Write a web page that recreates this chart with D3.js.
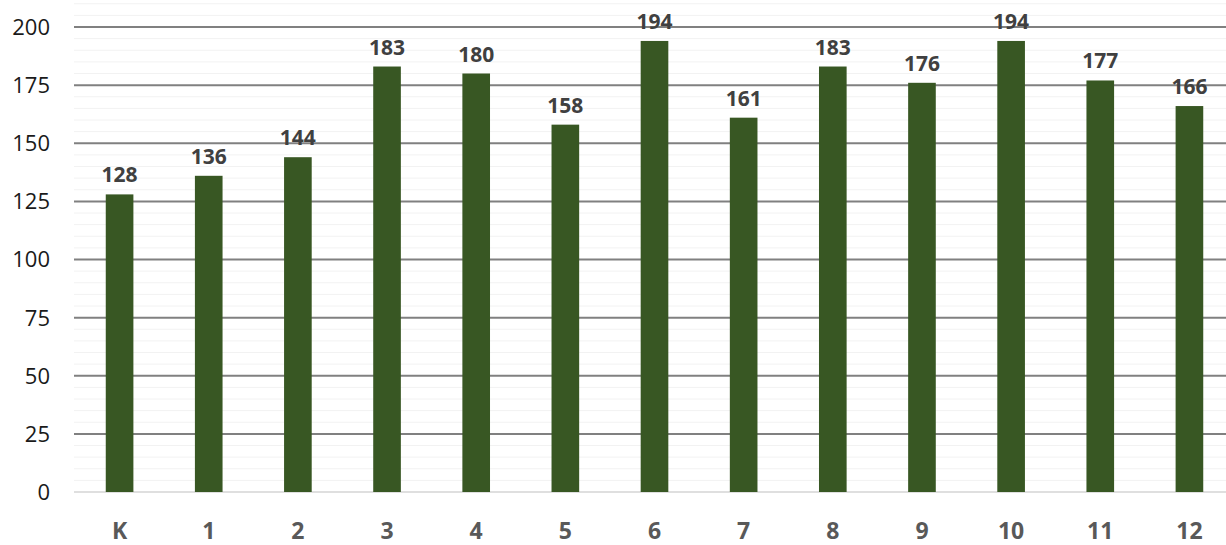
<!DOCTYPE html>
<html>
<head>
<meta charset="utf-8">
<script src="https://cdn.jsdelivr.net/npm/d3@7"></script>
<style>
  body { margin: 0; background: #fff; }
  svg { display: block; font-family: "Open Sans", sans-serif; }
</style>
</head>
<body>
<svg width="1226" height="545"></svg>
<script>
// grades and their counts
var grades = ["K", "1", "2", "3", "4", "5", "6", "7", "8", "9", "10", "11", "12"];
var counts = [128, 136, 144, 183, 180, 158, 194, 161, 183, 176, 194, 177, 166];
var yTicks = [0, 25, 50, 75, 100, 125, 150, 175, 200];

var svg = d3.select("svg");

var x = d3.scaleBand()
    .domain(grades)
    .range([75, 1234])
    .paddingInner(0.69)
    .paddingOuter(0.345);

var y = d3.scaleLinear()
    .domain([0, 200])
    .range([492, 27]);

// minor grid every 5
var minor = d3.range(5, 215, 5).filter(function (d) { return d % 25 !== 0; });
svg.append("g")
    .selectAll("line")
    .data(minor)
    .enter().append("line")
    .attr("x1", 74).attr("x2", 1226)
    .attr("y1", function (d) { return y(d); })
    .attr("y2", function (d) { return y(d); })
    .attr("stroke", "#f2f2f2")
    .attr("stroke-width", 1);

// major grid
svg.append("g")
    .selectAll("line")
    .data(yTicks.filter(function (d) { return d > 0; }))
    .enter().append("line")
    .attr("x1", 74).attr("x2", 1226)
    .attr("y1", function (d) { return y(d); })
    .attr("y2", function (d) { return y(d); })
    .attr("stroke", "#808080")
    .attr("stroke-width", 2);

// zero line
svg.append("line")
    .attr("x1", 74).attr("x2", 1226)
    .attr("y1", y(0)).attr("y2", y(0))
    .attr("stroke", "#d4d4d4")
    .attr("stroke-width", 1.5);

// y axis labels
svg.append("g")
    .selectAll("text")
    .data(yTicks)
    .enter().append("text")
    .attr("x", 50)
    .attr("y", function (d) { return y(d); })
    .attr("dy", "0.36em")
    .attr("text-anchor", "end")
    .attr("font-size", 22)
    .attr("fill", "#1a1a1a")
    .text(function (d) { return d; });

var data = grades.map(function (g, i) { return { grade: g, count: counts[i] }; });

svg.append("g")
    .selectAll("rect")
    .data(data)
    .enter().append("rect")
    .attr("x", function (d) { return x(d.grade); })
    .attr("y", function (d) { return y(d.count); })
    .attr("width", x.bandwidth())
    .attr("height", function (d) { return y(0) - y(d.count); })
    .attr("fill", "#385723");

// value labels
svg.append("g")
    .selectAll("text")
    .data(data)
    .enter().append("text")
    .attr("x", function (d) { return x(d.grade) + x.bandwidth() / 2; })
    .attr("y", function (d) { return y(d.count) - 12; })
    .attr("text-anchor", "middle")
    .attr("font-size", 21)
    .attr("font-weight", "bold")
    .attr("fill", "#404040")
    .text(function (d) { return d.count; });

// x labels
svg.append("g")
    .selectAll("text")
    .data(grades)
    .enter().append("text")
    .attr("x", function (d) { return x(d) + x.bandwidth() / 2; })
    .attr("y", 531)
    .attr("dy", "0.36em")
    .attr("text-anchor", "middle")
    .attr("font-size", 23)
    .attr("font-weight", "bold")
    .attr("fill", "#595959")
    .text(function (d) { return d; });
</script>
</body>
</html>
